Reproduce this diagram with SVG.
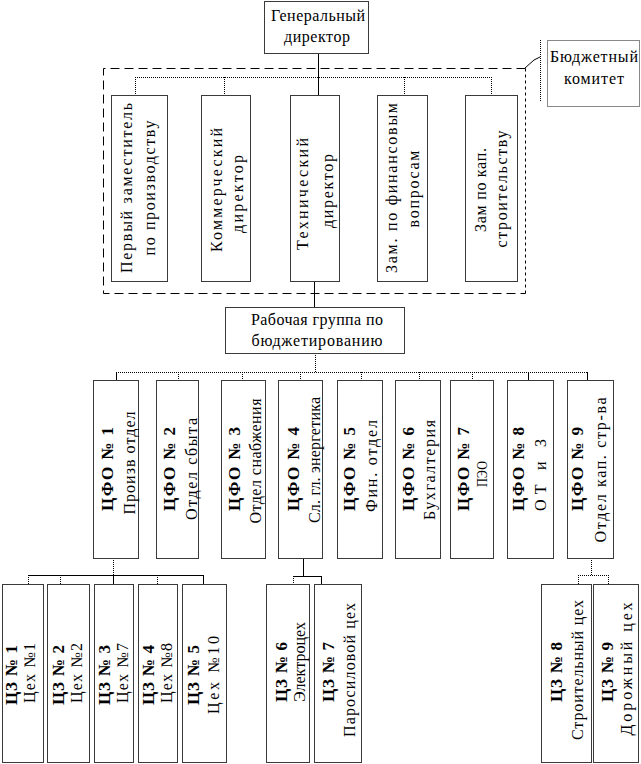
<svg xmlns="http://www.w3.org/2000/svg" width="641" height="764" viewBox="0 0 641 764">
<style>
.t{font-family:"Liberation Serif","Times New Roman",serif;font-size:16px;fill:#000}
.c{text-anchor:middle}
.b{font-weight:bold;font-size:17px}
.box{fill:#fff;stroke:#3a3a3a;stroke-width:1}
.sb{fill:#fff;stroke:#3a3a3a;stroke-width:1}
.s{stroke:#000;stroke-width:1;fill:none}
.d{stroke:#000;stroke-width:1;stroke-dasharray:1 1;fill:none}
.dash{stroke:#000;stroke-width:1;stroke-dasharray:9 5;fill:none}
.dash2{stroke:#000;stroke-width:1;stroke-dasharray:3 3;fill:none}
</style>
<rect width="641" height="764" fill="#fff"/>

<g id="connectors">
  <line class="s" x1="318.5" y1="53" x2="318.5" y2="95"/>
  <line class="d" x1="135" y1="77.5" x2="492" y2="77.5"/>
  <line class="d" x1="135.5" y1="77" x2="135.5" y2="95"/>
  <line class="d" x1="224.5" y1="77" x2="224.5" y2="95"/>
  <line class="d" x1="404.5" y1="77" x2="404.5" y2="95"/>
  <line class="d" x1="491.5" y1="77" x2="491.5" y2="95"/>
  <line class="s" x1="314.5" y1="281" x2="314.5" y2="307"/>
  <line class="d" x1="315.5" y1="353" x2="315.5" y2="372"/>
  <line class="d" x1="116" y1="372.5" x2="588" y2="372.5"/>
  <line class="s" x1="116.5" y1="372" x2="116.5" y2="380"/>
  <line class="d" x1="178.5" y1="372" x2="178.5" y2="380"/>
  <line class="d" x1="242.5" y1="372" x2="242.5" y2="380"/>
  <line class="d" x1="300.5" y1="372" x2="300.5" y2="380"/>
  <line class="d" x1="361.5" y1="372" x2="361.5" y2="380"/>
  <line class="d" x1="419.5" y1="372" x2="419.5" y2="380"/>
  <line class="d" x1="472.5" y1="372" x2="472.5" y2="380"/>
  <line class="s" x1="528.5" y1="372" x2="528.5" y2="380"/>
  <line class="s" x1="587.5" y1="372" x2="587.5" y2="380"/>
  <line class="d" x1="113.5" y1="558" x2="113.5" y2="575"/>
  <line class="s" x1="28" y1="575.5" x2="204" y2="575.5"/>
  <line class="d" x1="28.5" y1="575" x2="28.5" y2="584"/>
  <line class="d" x1="60.5" y1="575" x2="60.5" y2="584"/>
  <line class="s" x1="113.5" y1="575" x2="113.5" y2="584"/>
  <line class="d" x1="157.5" y1="575" x2="157.5" y2="584"/>
  <line class="s" x1="203.5" y1="575" x2="203.5" y2="584"/>
  <line class="s" x1="303.5" y1="558" x2="303.5" y2="576"/>
  <line class="s" x1="293" y1="576.5" x2="322" y2="576.5"/>
  <line class="d" x1="293.5" y1="576" x2="293.5" y2="584"/>
  <line class="s" x1="321.5" y1="576" x2="321.5" y2="584"/>
  <line class="d" x1="591.5" y1="558" x2="591.5" y2="575"/>
  <line class="d" x1="578" y1="575.5" x2="609" y2="575.5"/>
  <line class="d" x1="578.5" y1="575" x2="578.5" y2="584"/>
  <line class="d" x1="608.5" y1="575" x2="608.5" y2="584"/>
</g>

<g id="budget-committee">
  <path class="dash" d="M525.5 68.5 H103.5 V293.5 H525.5"/>
  <line class="dash2" x1="525.5" y1="68.5" x2="525.5" y2="293.5"/>
  <polyline class="s" points="525,68 534,60 540,57"/>
  <line class="d" x1="540.5" y1="40" x2="540.5" y2="101"/>
  <rect class="box" x="547.5" y="40.5" width="92" height="66" style="stroke:#888"/>
  <text class="t c" x="594" y="62" textLength="88" lengthAdjust="spacing">Бюджетный</text>
  <text class="t c" x="594" y="84" textLength="60" lengthAdjust="spacing">комитет</text>
</g>

<g id="gen-director">
  <rect class="box" x="264.5" y="1.5" width="104" height="52"/>
  <text class="t c" x="318" y="21" textLength="94" lengthAdjust="spacing">Генеральный</text>
  <text class="t c" x="317" y="42" textLength="66" lengthAdjust="spacing">директор</text>
</g>

<g id="first-deputy">
  <rect class="sb" x="111.5" y="95.5" width="56" height="186"/>
  <text class="t c" transform="translate(132,188) rotate(-90)" textLength="170" lengthAdjust="spacing">Первый заместитель</text>
  <text class="t c" transform="translate(155,188) rotate(-90)" textLength="135" lengthAdjust="spacing">по производству</text>
</g>
<g id="commercial">
  <rect class="box" x="201.5" y="95.5" width="49" height="186"/>
  <text class="t c" transform="translate(222,190) rotate(-90)" textLength="124" lengthAdjust="spacing">Коммерческий</text>
  <text class="t c" transform="translate(243,194) rotate(-90)" textLength="78" lengthAdjust="spacing">директор</text>
</g>
<g id="technical">
  <rect class="sb" x="290.5" y="95.5" width="49" height="186"/>
  <text class="t c" transform="translate(308,194) rotate(-90)" textLength="112" lengthAdjust="spacing">Технический</text>
  <text class="t c" transform="translate(333,191) rotate(-90)" textLength="74" lengthAdjust="spacing">директор</text>
</g>
<g id="finance-deputy">
  <rect class="box" x="377.5" y="95.5" width="50" height="186"/>
  <text class="t c" transform="translate(397,188) rotate(-90)" textLength="170" lengthAdjust="spacing">Зам. по финансовым</text>
  <text class="t c" transform="translate(419,189) rotate(-90)" textLength="77" lengthAdjust="spacing">вопросам</text>
</g>
<g id="capital-deputy">
  <rect class="box" x="465.5" y="95.5" width="52" height="186"/>
  <text class="t c" transform="translate(486,190) rotate(-90)" textLength="84" lengthAdjust="spacing">Зам по кап.</text>
  <text class="t c" transform="translate(507,189) rotate(-90)" textLength="117" lengthAdjust="spacing">строительству</text>
</g>

<g id="working-group">
  <rect class="box" x="225.5" y="307.5" width="179" height="46"/>
  <text class="t c" x="317" y="325" textLength="132" lengthAdjust="spacing">Рабочая группа по</text>
  <text class="t c" x="317" y="346" textLength="131" lengthAdjust="spacing">бюджетированию</text>
</g>

<g id="cfo1">
  <rect class="box" x="93.5" y="380.5" width="45" height="178"/>
  <text class="t c b" transform="translate(113,469) rotate(-90)" textLength="84" lengthAdjust="spacing">ЦФО № 1</text>
  <text class="t c" transform="translate(135,463) rotate(-90)" textLength="103" lengthAdjust="spacing">Произв отдел</text>
</g>
<g id="cfo2">
  <rect class="box" x="156.5" y="380.5" width="42" height="178"/>
  <text class="t c b" transform="translate(175,469) rotate(-90)" textLength="84" lengthAdjust="spacing">ЦФО № 2</text>
  <text class="t c" transform="translate(197,469) rotate(-90)" textLength="102" lengthAdjust="spacing">Отдел сбыта</text>
</g>
<g id="cfo3">
  <rect class="sb" x="221.5" y="380.5" width="44" height="178"/>
  <text class="t c b" transform="translate(240,469) rotate(-90)" textLength="84" lengthAdjust="spacing">ЦФО № 3</text>
  <text class="t c" transform="translate(261,461) rotate(-90)" textLength="125" lengthAdjust="spacing">Отдел снабжения</text>
</g>
<g id="cfo4">
  <rect class="sb" x="278.5" y="380.5" width="44" height="178"/>
  <text class="t c b" transform="translate(299,469) rotate(-90)" textLength="84" lengthAdjust="spacing">ЦФО № 4</text>
  <text class="t c" transform="translate(320,460) rotate(-90)" textLength="126" lengthAdjust="spacing">Сл. гл. энергетика</text>
</g>
<g id="cfo5">
  <rect class="box" x="337.5" y="380.5" width="45" height="178"/>
  <text class="t c b" transform="translate(355,469) rotate(-90)" textLength="84" lengthAdjust="spacing">ЦФО № 5</text>
  <text class="t c" transform="translate(377,466) rotate(-90)" textLength="92" lengthAdjust="spacing">Фин. отдел</text>
</g>
<g id="cfo6">
  <rect class="box" x="395.5" y="380.5" width="45" height="178"/>
  <text class="t c b" transform="translate(414,469) rotate(-90)" textLength="84" lengthAdjust="spacing">ЦФО № 6</text>
  <text class="t c" transform="translate(435,470) rotate(-90)" textLength="100" lengthAdjust="spacing">Бухгалтерия</text>
</g>
<g id="cfo7">
  <rect class="box" x="450.5" y="380.5" width="43" height="178"/>
  <text class="t c b" transform="translate(469,469) rotate(-90)" textLength="84" lengthAdjust="spacing">ЦФО № 7</text>
  <text class="t c" style="font-size:14px" transform="translate(487,474) rotate(-90)" textLength="26" lengthAdjust="spacingAndGlyphs">ПЭО</text>
</g>
<g id="cfo8">
  <rect class="box" x="507.5" y="380.5" width="46" height="178"/>
  <text class="t c b" transform="translate(524,469) rotate(-90)" textLength="84" lengthAdjust="spacing">ЦФО № 8</text>
  <text class="t c" transform="translate(546,475) rotate(-90)" textLength="72" lengthAdjust="spacing">ОТ и З</text>
</g>
<g id="cfo9">
  <rect class="box" x="567.5" y="380.5" width="46" height="178"/>
  <text class="t c b" transform="translate(583,469) rotate(-90)" textLength="84" lengthAdjust="spacing">ЦФО № 9</text>
  <text class="t c" transform="translate(606,470) rotate(-90)" textLength="145" lengthAdjust="spacing">Отдел кап. стр-ва</text>
</g>

<g id="cz1">
  <rect class="sb" x="2.5" y="584.5" width="41" height="178"/>
  <text class="t c b" transform="translate(17,675) rotate(-90)" textLength="60" lengthAdjust="spacing">ЦЗ № 1</text>
  <text class="t c" transform="translate(35,673) rotate(-90)" textLength="60" lengthAdjust="spacing">Цех №1</text>
</g>
<g id="cz2">
  <rect class="box" x="47.5" y="584.5" width="42" height="178"/>
  <text class="t c b" transform="translate(64,675) rotate(-90)" textLength="60" lengthAdjust="spacing">ЦЗ № 2</text>
  <text class="t c" transform="translate(82,673) rotate(-90)" textLength="60" lengthAdjust="spacing">Цех №2</text>
</g>
<g id="cz3">
  <rect class="box" x="94.5" y="584.5" width="39" height="178"/>
  <text class="t c b" transform="translate(110,675) rotate(-90)" textLength="60" lengthAdjust="spacing">ЦЗ № 3</text>
  <text class="t c" transform="translate(128,673) rotate(-90)" textLength="60" lengthAdjust="spacing">Цех №7</text>
</g>
<g id="cz4">
  <rect class="box" x="138.5" y="584.5" width="39" height="178"/>
  <text class="t c b" transform="translate(154,675) rotate(-90)" textLength="60" lengthAdjust="spacing">ЦЗ № 4</text>
  <text class="t c" transform="translate(172,673) rotate(-90)" textLength="60" lengthAdjust="spacing">Цех №8</text>
</g>
<g id="cz5">
  <rect class="box" x="182.5" y="584.5" width="44" height="178"/>
  <text class="t c b" transform="translate(199,675) rotate(-90)" textLength="60" lengthAdjust="spacing">ЦЗ № 5</text>
  <text class="t c" transform="translate(219,675) rotate(-90)" textLength="78" lengthAdjust="spacing">Цех №10</text>
</g>
<g id="cz6">
  <rect class="box" x="266.5" y="584.5" width="43" height="178"/>
  <text class="t c b" transform="translate(287,672) rotate(-90)" textLength="60" lengthAdjust="spacing">ЦЗ № 6</text>
  <text class="t c" transform="translate(305,662) rotate(-90)" textLength="80" lengthAdjust="spacing">Электроцех</text>
</g>
<g id="cz7">
  <rect class="box" x="314.5" y="584.5" width="47" height="178"/>
  <text class="t c b" transform="translate(334,672) rotate(-90)" textLength="60" lengthAdjust="spacing">ЦЗ № 7</text>
  <text class="t c" transform="translate(355,670) rotate(-90)" textLength="134" lengthAdjust="spacing">Паросиловой цех</text>
</g>
<g id="cz8">
  <rect class="sb" x="541.5" y="584.5" width="50" height="178"/>
  <text class="t c b" transform="translate(562,672) rotate(-90)" textLength="60" lengthAdjust="spacing">ЦЗ № 8</text>
  <text class="t c" transform="translate(583,670) rotate(-90)" textLength="140" lengthAdjust="spacing">Строительный цех</text>
</g>
<g id="cz9">
  <rect class="box" x="593.5" y="584.5" width="45" height="178"/>
  <text class="t c b" transform="translate(613,672) rotate(-90)" textLength="60" lengthAdjust="spacing">ЦЗ № 9</text>
  <text class="t c" transform="translate(632,669) rotate(-90)" textLength="133" lengthAdjust="spacing">Дорожный цех</text>
</g>
</svg>
